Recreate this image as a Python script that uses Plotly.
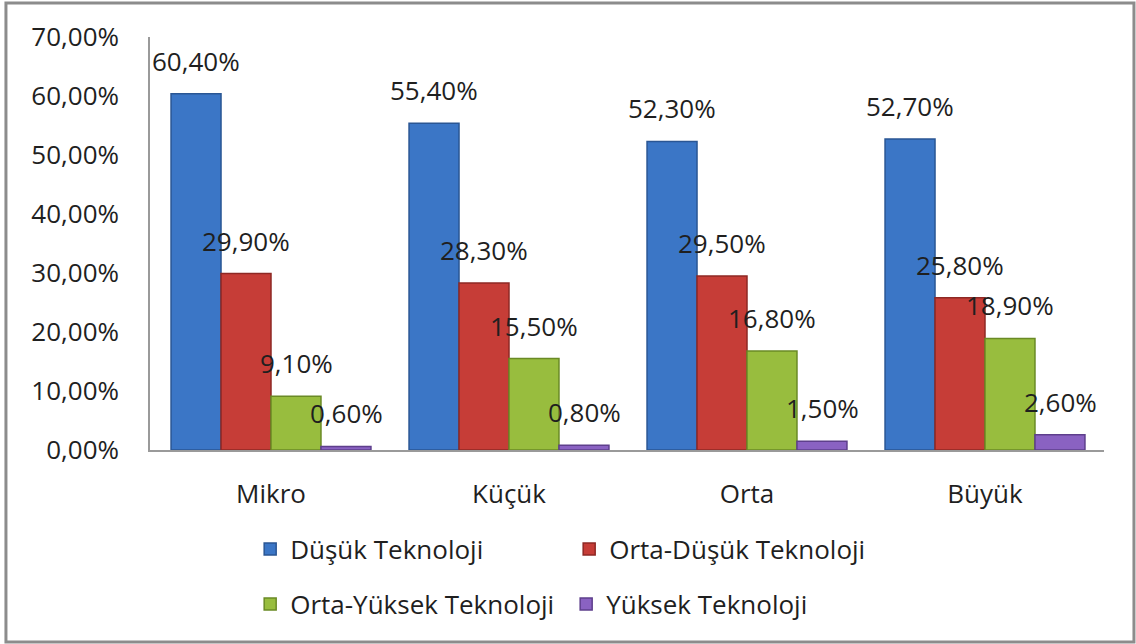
import plotly.graph_objects as go

categories = ["Mikro", "Küçük", "Orta", "Büyük"]
dusuk = [60.4, 55.4, 52.3, 52.7]
orta_dusuk = [29.9, 28.3, 29.5, 25.8]
orta_yuksek = [9.1, 15.5, 16.8, 18.9]
yuksek = [0.6, 0.8, 1.5, 2.6]

series = [
    ("Düşük Teknoloji", dusuk, "#3B76C6", "#2A5694", "legend"),
    ("Orta-Düşük Teknoloji", orta_dusuk, "#C63D37", "#8E2824", "legend"),
    ("Orta-Yüksek Teknoloji", orta_yuksek, "#98BD3E", "#6A8A25", "legend2"),
    ("Yüksek Teknoloji", yuksek, "#8A62C2", "#5E3F8C", "legend2"),
]

FONT = "Open Sans"
TXT = "#1f1f1f"
FS = 26

fig = go.Figure()
for name, vals, col, edge, lg in series:
    fig.add_trace(go.Bar(
        x=categories, y=vals, name=name, legend=lg,
        marker=dict(color=col, line=dict(color=edge, width=1.5)),
    ))

# data labels sit well above each bar, centred on it
shifts = [-75, -25, 25, 75]
annotate = []
for (name, vals, col, edge, lg), dx in zip(series, shifts):
    for cat, v in zip(categories, vals):
        annotate.append(dict(
            x=cat, y=v, xref="x", yref="y", showarrow=False,
            xshift=dx, yshift=33, yanchor="middle",
            text=f"{v:.2f}".replace(".", ",") + "%",
            font=dict(family=FONT, size=FS, color=TXT),
        ))

fig.update_layout(
    width=1136, height=644,
    margin=dict(l=150, r=32, t=37, b=194),
    paper_bgcolor="white", plot_bgcolor="white",
    barmode="group", bargap=0.16, bargroupgap=0,
    separators=",.",
    font=dict(family=FONT, size=FS, color=TXT),
    showlegend=True,
    annotations=annotate,
    xaxis=dict(
        showline=True, linecolor="#9a9a9a", linewidth=1.5,
        showgrid=False, ticks="", ticklabelstandoff=20,
        tickfont=dict(family=FONT, size=FS, color=TXT),
    ),
    yaxis=dict(
        range=[0, 70], dtick=10, tickformat=".2f", ticksuffix="%",
        showline=True, linecolor="#9a9a9a", linewidth=1.5,
        showgrid=False, zeroline=False, ticks="", ticklabelstandoff=24,
        tickfont=dict(family=FONT, size=FS, color=TXT),
    ),
    legend=dict(
        orientation="h", x=0.105, xanchor="left", y=-0.183, yanchor="top",
        entrywidth=274, font=dict(family=FONT, size=FS, color=TXT),
        itemclick=False,
    ),
    legend2=dict(
        orientation="h", x=0.105, xanchor="left", y=-0.316, yanchor="top",
        entrywidth=271, font=dict(family=FONT, size=FS, color=TXT),
        itemclick=False,
    ),
    shapes=[dict(
        type="rect", xref="paper", yref="paper",
        x0=-0.151, x1=1.0314, y0=-0.4649, y1=1.0823,
        line=dict(color="#8c8c8c", width=3), layer="below",
    )],
)

fig.write_html("out.html", config={"displayModeBar": False},
               post_script="document.body.style.margin='0';")
